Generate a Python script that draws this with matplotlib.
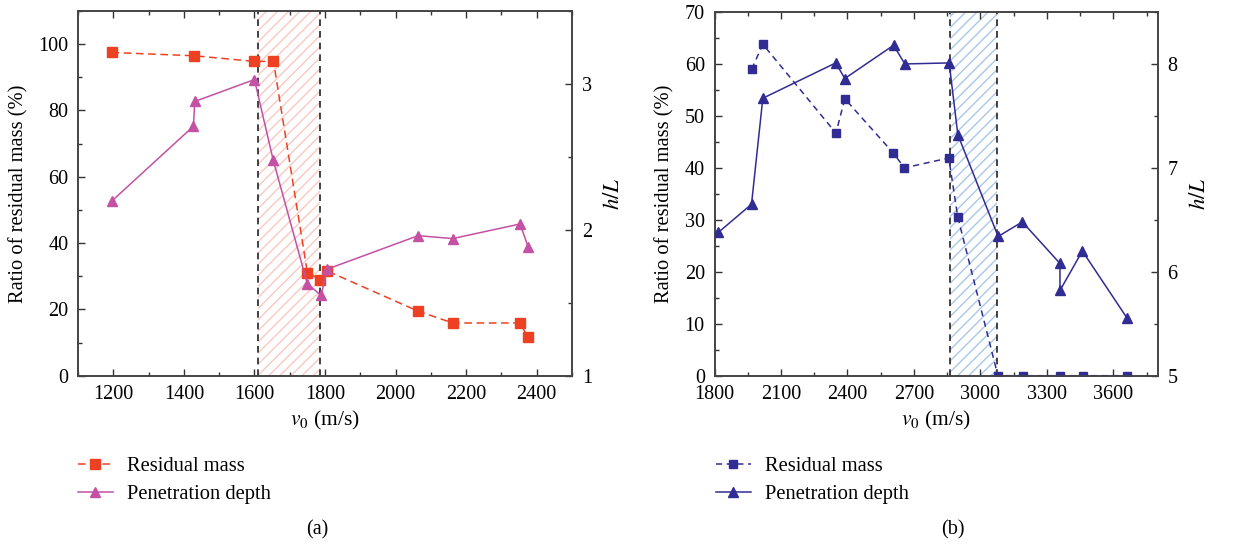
import matplotlib
matplotlib.use('Agg')
import matplotlib.pyplot as plt
from matplotlib.ticker import MultipleLocator

plt.rcParams['font.family'] = ['Liberation Serif', 'DejaVu Serif']
plt.rcParams['mathtext.fontset'] = 'stix'
plt.rcParams['hatch.linewidth'] = 1.0

# (a) left panel
v_mass_a = [1195, 1429, 1600, 1654, 1750, 1787, 1806, 2063, 2162, 2352, 2375]
mass_a = [97.5, 96.5, 94.8, 94.8, 31.1, 28.9, 31.6, 19.5, 15.9, 15.9, 11.7]
v_depth_a = [1197, 1427, 1431, 1600, 1653, 1750, 1789, 1806, 2064, 2162, 2353, 2376]
depth_a = [2.20, 2.71, 2.88, 3.03, 2.48, 1.63, 1.55, 1.73, 1.96, 1.94, 2.04, 1.88]
zone_a = (1610, 1785)

# (b) right panel
v_mass_b = [1968, 2018, 2348, 2388, 2606, 2657, 2857, 2898, 3079, 3190, 3359, 3461, 3660]
mass_b = [59.0, 63.8, 46.7, 53.3, 42.9, 40.0, 41.9, 30.5, 0, 0, 0, 0, 0]
v_depth_b = [1818, 1967, 2018, 2347, 2388, 2608, 2659, 2859, 2898, 3080, 3189,
             3359, 3359, 3460, 3660]
depth_b = [6.38, 6.65, 7.67, 8.01, 7.86, 8.18, 8.00, 8.01, 7.32, 6.34, 6.48,
           6.08, 5.82, 6.20, 5.56]
zone_b = (2863, 3073)

FS = 14.5


def style_axis(ax, right=False):
    ax.tick_params(which='both', direction='in', labelsize=FS, width=1.0,
                   top=not right, right=right, left=not right, color='#333333')
    ax.tick_params(which='major', length=5, pad=7)
    ax.tick_params(which='minor', length=3)
    for s in ax.spines.values():
        s.set_color('#444444')
        s.set_linewidth(1.2)


def draw_panel(ax, vm, m, vd, d, zone, cm, cd, hatch_col, xlim, xmaj, xmin_,
               ylim, ymaj, ymin_, y2lim, y2maj, y2min, msq, mtri, dash):
    ax.axvspan(zone[0], zone[1], facecolor='none', edgecolor=hatch_col,
               hatch='///', linewidth=0, zorder=0)
    for xv in zone:
        ax.axvline(xv, color='#222222', ls=(0, (4, 3)), lw=1.2, zorder=1)
    l1, = ax.plot(vm, m, color=cm, ls=(0, dash), lw=1.1, marker='s',
                  markersize=msq, zorder=3, label='Residual mass')
    ax.set_xlim(*xlim)
    ax.set_ylim(*ylim)
    ax.xaxis.set_major_locator(MultipleLocator(xmaj))
    ax.xaxis.set_minor_locator(MultipleLocator(xmin_))
    ax.yaxis.set_major_locator(MultipleLocator(ymaj))
    ax.yaxis.set_minor_locator(MultipleLocator(ymin_))
    ax.set_xlabel('$v_0$ (m/s)', fontsize=FS + 1, labelpad=3)
    ax.set_ylabel('Ratio of residual mass (%)', fontsize=FS + 0.3, labelpad=7)
    style_axis(ax)

    ax2 = ax.twinx()
    l2, = ax2.plot(vd, d, color=cd, ls='-', lw=1.1, marker='^',
                   markersize=mtri, zorder=3, label='Penetration depth')
    ax2.set_ylim(*y2lim)
    ax2.yaxis.set_major_locator(MultipleLocator(y2maj))
    ax2.yaxis.set_minor_locator(MultipleLocator(y2min))
    ax2.set_ylabel('$h/L$', fontsize=FS + 2, labelpad=8)
    style_axis(ax2, right=True)
    return [l1, l2]


fig = plt.figure(figsize=(12.57, 5.44), dpi=100)
W, H = 1257, 544
ax_a = fig.add_axes([78 / W, (H - 375.7) / H, (572 - 78) / W, (375.7 - 11) / H])
ax_b = fig.add_axes([714.5 / W, (H - 375.7) / H, (1157.7 - 714.5) / W, (375.7 - 12) / H])

red = '#EE4123'
mag = '#C451A3'
navy = '#312C93'

ha = draw_panel(ax_a, v_mass_a, mass_a, v_depth_a, depth_a, zone_a, red, mag,
                '#F9C9C2', (1100, 2500), 200, 100, (0, 110), 20, 10,
                (1, 3.5), 1, 0.5, 7, 7.5, (5, 3))
hb = draw_panel(ax_b, v_mass_b, mass_b, v_depth_b, depth_b, zone_b, navy, navy,
                '#A9C8E8', (1800, 3800), 300, 150, (0, 70), 10, 5,
                (5, 8.5), 1, 0.5, 5.5, 7, (4, 3))

for handles, x0 in ((ha, 78), (hb, 716)):
    fig.legend(handles=handles, loc='upper left',
               bbox_to_anchor=(x0 / W, (H - 457) / H), frameon=False,
               fontsize=FS + 0.3, handlelength=1.7, handletextpad=0.7,
               borderpad=0, borderaxespad=0, labelspacing=0.4)

fig.text(317 / W, (H - 530) / H, '(a)', fontsize=FS, ha='center', va='center')
fig.text(953 / W, (H - 530) / H, '(b)', fontsize=FS, ha='center', va='center')

fig.savefig('out.png', dpi=100)
